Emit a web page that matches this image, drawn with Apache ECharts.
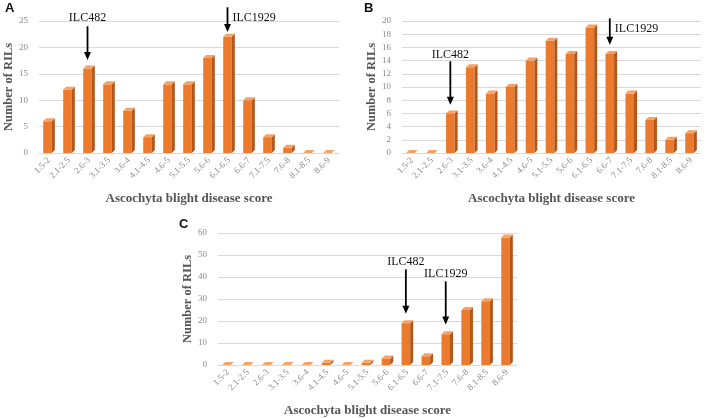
<!DOCTYPE html>
<html><head><meta charset="utf-8">
<script src="https://cdn.jsdelivr.net/npm/echarts@6/dist/echarts.min.js"></script>
<style>html,body{margin:0;padding:0;background:#fff}#c{width:708px;height:418px}</style>
</head><body><div id="c"></div>
<script>
const categories = ['1.5-2','2.1-2.5','2.6-3','3.1-3.5','3.6-4','4.1-4.5','4.6-5','5.1-5.5','5.6-6','6.1-6.5','6.6-7','7.1-7.5','7.6-8','8.1-8.5','8.6-9'];
const valuesA = [6,12,16,13,8,3,13,13,18,22,10,3,1,0,0];
const valuesB = [0,0,6,13,9,10,14,17,15,19,15,9,5,2,3];
const valuesC = [0,0,0,0,0,1,0,1,3,19,4,14,25,29,58];
const annotationsA = [{text:'ILC482', cat:'2.6-3'},{text:'ILC1929', cat:'6.1-6.5'}];
const annotationsB = [{text:'ILC482', cat:'2.6-3'},{text:'ILC1929', cat:'6.6-7'}];
const annotationsC = [{text:'ILC482', cat:'6.1-6.5'},{text:'ILC1929', cat:'7.1-7.5'}];

const serif = 'Liberation Serif';
const FRONT = '#EC7A2C', SIDE = '#B3561A', TOP = '#F4A267';
function render3D(params, api){
  const i = api.value(0), v = api.value(1);
  const top = api.coord([i, v]); const base = api.coord([i, 0]);
  const bw = api.size([1,0])[0]*0.43;
  const d = 3;
  const cx = top[0] - 1.5;
  const l = cx - bw/2, r = cx + bw/2;
  return {type:'group', children:[
    {type:'rect', shape:{x:l, y:top[1], width:bw, height:base[1]-top[1]}, style:{fill:FRONT}},
    {type:'polygon', shape:{points:[[r,top[1]],[r+d,top[1]-d],[r+d,base[1]-d],[r,base[1]]]}, style:{fill:SIDE}},
    {type:'polygon', shape:{points:[[l,top[1]],[l+d,top[1]-d],[r+d,top[1]-d],[r,top[1]]]}, style:{fill:TOP}}
  ]};
}
const grids = [
  {left:39, right:369, top:21, bottom:265},
  {left:402, right:7, top:21, bottom:265},
  {left:218, right:191, top:233, bottom:51}
];
const yMax = [25, 20, 60], yInt = [5, 2, 10];
const xAxes = grids.map((g,k)=>({
  type:'category', gridIndex:k, data:categories,
  axisLine:{show:false}, axisTick:{show:false},
  axisLabel:{rotate:45, fontFamily:serif, fontSize:9, color:'#8a8a8a', margin:6, interval:0},
  name:'Ascochyta blight disease score', nameLocation:'middle', nameGap:39,
  nameTextStyle:{fontFamily:serif, fontWeight:'bold', fontSize:13, color:'#555'}
}));
const yAxes = grids.map((g,k)=>({
  type:'value', gridIndex:k, min:0, max:yMax[k], interval:yInt[k],
  axisLine:{show:false}, axisTick:{show:false},
  splitLine:{lineStyle:{color:'#d9d9d9', width:1}},
  axisLabel:{fontFamily:serif, fontSize:9, color:'#8a8a8a', margin:11},
  name:'Number of RILs', nameLocation:'middle', nameGap:20,
  nameTextStyle:{fontFamily:serif, fontWeight:'bold', fontSize:12.5, color:'#555'}
}));
const barData = [valuesA, valuesB, valuesC];
const series = barData.map((vals,k)=>({
  type:'custom', xAxisIndex:k, yAxisIndex:k, renderItem:render3D,
  data: vals.map((v,i)=>[i,v]), silent:true
}));
// arrow from-value, to-value, text-value, text placement
const arrowSpecs = [
  [annotationsA, [[24,17.6,25.6,'top'],[27.6,22.9,25.6,'right']]],
  [annotationsB, [[13.9,7.3,14.8,'top'],[20.4,16.4,18.8,'right']]],
  [annotationsC, [[43.5,23.3,47,'top'],[38,18.4,41.5,'top']]]
];
function renderArrow(params, api){
  const i = api.value(0);
  const p1 = api.coord([i, api.value(1)]);
  const p2 = api.coord([i, api.value(2)]);
  const pt = api.coord([i, api.value(3)]);
  const pos = api.value(4);
  const txt = api.value(5);
  const x = p1[0] - 1.5;
  const ah = 8, aw = 3.5;
  const textEl = pos === 'right'
    ? {type:'text', x:x+5, y:pt[1], style:{text:txt, font:'12px Liberation Serif', fill:'#111', textAlign:'left', textVerticalAlign:'middle'}}
    : {type:'text', x:x, y:pt[1], style:{text:txt, font:'12px Liberation Serif', fill:'#111', textAlign:'center', textVerticalAlign:'middle'}};
  return {type:'group', children:[
    {type:'line', shape:{x1:x, y1:p1[1], x2:x, y2:p2[1]-ah+1}, style:{stroke:'#000', lineWidth:1.8}},
    {type:'polygon', shape:{points:[[x-aw,p2[1]-ah],[x+aw,p2[1]-ah],[x,p2[1]]]}, style:{fill:'#000'}},
    textEl
  ]};
}
arrowSpecs.forEach((spec,k)=>{
  const [ann, arr] = spec;
  series.push({
    type:'custom', xAxisIndex:k, yAxisIndex:k, silent:true, clip:false, renderItem:renderArrow,
    dimensions:['x','from','to','ty','pos','text'],
    data: ann.map((a,j)=>[categories.indexOf(a.cat), arr[j][0], arr[j][1], arr[j][2], arr[j][3], a.text])
  });
});
const chart = echarts.init(document.getElementById('c'), null, {renderer:'canvas'});
chart.setOption({
  animation:false, backgroundColor:'#fff',
  grid:grids, xAxis:xAxes, yAxis:yAxes, series:series,
  graphic:[
    {type:'text', left:5, top:2, style:{text:'A', font:'bold 13px Liberation Sans', fill:'#111'}},
    {type:'text', left:364, top:2, style:{text:'B', font:'bold 13px Liberation Sans', fill:'#111'}},
    {type:'text', left:179, top:218, style:{text:'C', font:'bold 13px Liberation Sans', fill:'#111'}}
  ]
});
</script></body></html>
